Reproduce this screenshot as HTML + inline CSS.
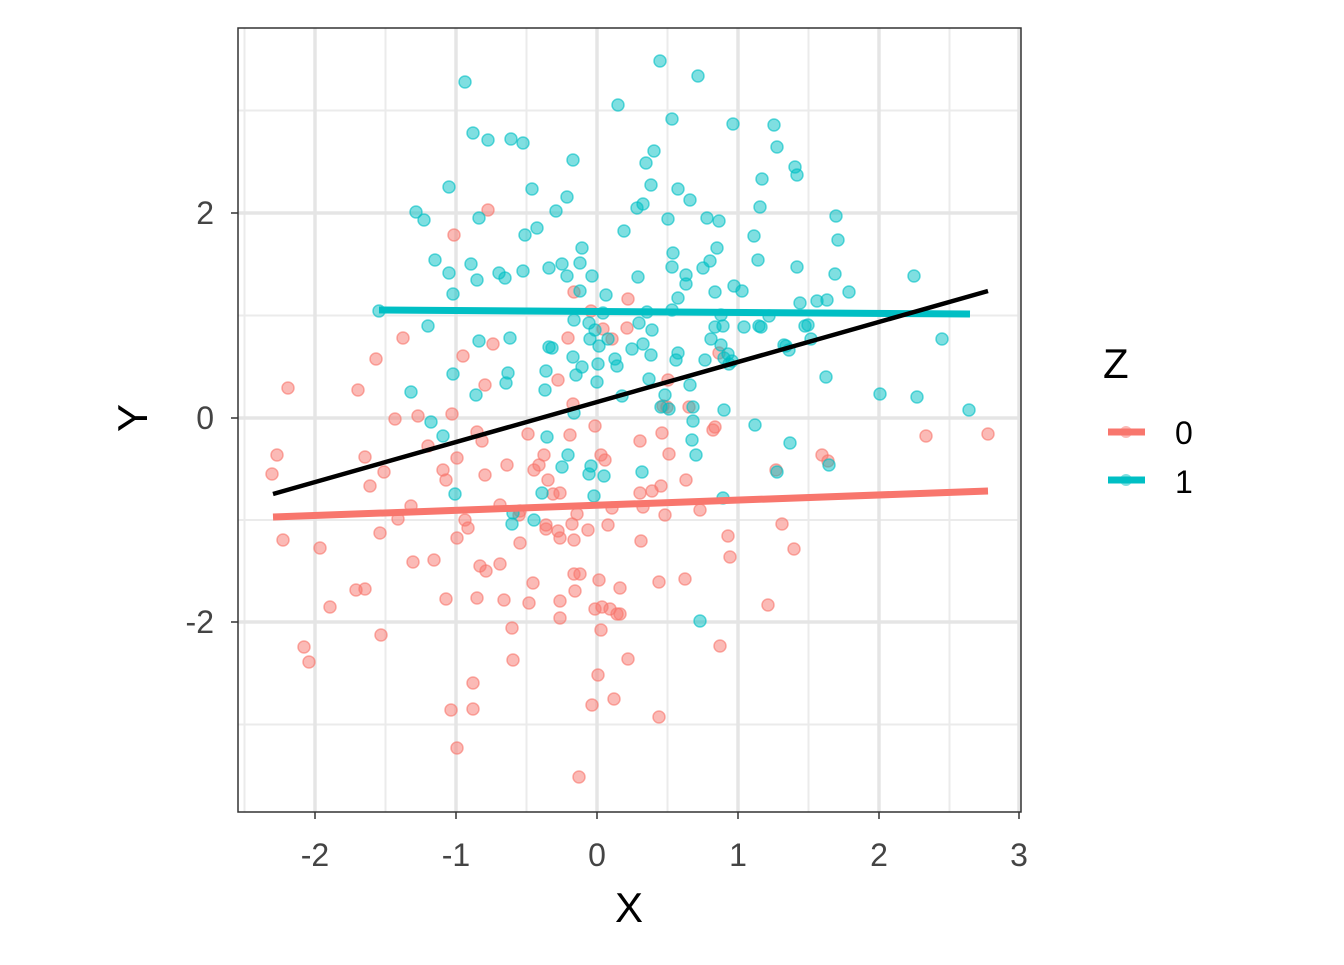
<!DOCTYPE html>
<html><head><meta charset="utf-8"><style>
body{margin:0;background:#fff}
svg text{font-family:"Liberation Sans","DejaVu Sans",sans-serif}
</style></head><body>
<svg id="s" width="1344" height="960" xmlns="http://www.w3.org/2000/svg">
<rect width="1344" height="960" fill="#fff"/>
<g stroke="#ebebeb" stroke-width="2">
<line x1="244.5" y1="28" x2="244.5" y2="812"/><line x1="385.5" y1="28" x2="385.5" y2="812"/><line x1="526.5" y1="28" x2="526.5" y2="812"/><line x1="667.5" y1="28" x2="667.5" y2="812"/><line x1="808.5" y1="28" x2="808.5" y2="812"/><line x1="949.5" y1="28" x2="949.5" y2="812"/>
<line x1="238" y1="110.5" x2="1021" y2="110.5"/><line x1="238" y1="315.5" x2="1021" y2="315.5"/><line x1="238" y1="520" x2="1021" y2="520"/><line x1="238" y1="724.5" x2="1021" y2="724.5"/>
</g>
<g stroke="#e5e5e5" stroke-width="3.5">
<line x1="315" y1="28" x2="315" y2="812"/><line x1="456" y1="28" x2="456" y2="812"/><line x1="597" y1="28" x2="597" y2="812"/><line x1="738" y1="28" x2="738" y2="812"/><line x1="879" y1="28" x2="879" y2="812"/><line x1="1019" y1="28" x2="1019" y2="812"/>
<line x1="238" y1="213" x2="1021" y2="213"/><line x1="238" y1="418" x2="1021" y2="418"/><line x1="238" y1="622" x2="1021" y2="622"/>
</g>
<g id="pts"></g>
<line x1="273" y1="517" x2="988" y2="491" stroke="#F8766D" stroke-width="7"/>
<line x1="379" y1="310" x2="970" y2="314" stroke="#00BFC4" stroke-width="7"/>
<line x1="273" y1="494" x2="988" y2="291" stroke="#000" stroke-width="4.5"/>
<rect x="238" y="28" width="783" height="784" fill="none" stroke="#333" stroke-width="1.5"/>
<g stroke="#333" stroke-width="1.5">
<line x1="315" y1="812" x2="315" y2="819"/><line x1="456" y1="812" x2="456" y2="819"/><line x1="597" y1="812" x2="597" y2="819"/><line x1="738" y1="812" x2="738" y2="819"/><line x1="879" y1="812" x2="879" y2="819"/><line x1="1019" y1="812" x2="1019" y2="819"/>
<line x1="231" y1="213" x2="238" y2="213"/><line x1="231" y1="418" x2="238" y2="418"/><line x1="231" y1="622" x2="238" y2="622"/>
</g>
<g font-size="32" fill="#444" text-anchor="middle">
<text x="315" y="866">-2</text><text x="456" y="866">-1</text><text x="597" y="866">0</text><text x="738" y="866">1</text><text x="879" y="866">2</text><text x="1019" y="866">3</text>
</g>
<g font-size="32" fill="#444" text-anchor="end">
<text x="214" y="224">2</text><text x="214" y="429">0</text><text x="214" y="633">-2</text>
</g>
<text x="629" y="922" font-size="42" text-anchor="middle">X</text>
<text transform="translate(147,418) rotate(-90)" font-size="42" text-anchor="middle">Y</text>
<text x="1103" y="378" font-size="42">Z</text>
<line x1="1108" y1="432" x2="1145" y2="432" stroke="#F8766D" stroke-width="7"/>
<circle cx="1126" cy="432" r="6" fill="#F8766D" fill-opacity="0.5"/>
<line x1="1108" y1="480" x2="1145" y2="480" stroke="#00BFC4" stroke-width="7"/>
<circle cx="1126" cy="480" r="6" fill="#00BFC4" fill-opacity="0.5"/>
<text x="1175" y="444" font-size="32">0</text><text x="1175" y="493" font-size="32">1</text>
</svg>
<script>
var teal=[465,82,660,61,698,76,618,105,473,133,488,140,511,139,523,143,672,119,733,124,774,125,777,147,795,167,797,175,654,151,646,163,573,160,651,185,678,189,690,200,449,187,532,189,567,197,556,211,416,212,424,220,479,218,637,208,643,204,668,219,707,218,719,221,762,179,760,207,836,216,838,240,624,231,537,228,525,235,582,248,754,236,717,248,435,260,449,273,471,264,499,273,505,278,523,271,549,268,562,264,567,276,580,263,592,276,638,277,673,253,672,267,686,275,686,284,703,268,710,261,758,260,797,267,835,274,849,292,914,276,734,286,742,291,580,291,606,295,678,298,715,292,453,294,477,280,800,303,827,300,817,301,647,312,672,310,652,330,639,323,603,313,589,323,590,339,574,320,595,330,599,346,608,339,715,327,711,339,723,326,721,315,744,327,759,326,769,316,761,327,805,326,811,339,428,326,479,341,510,338,549,347,552,348,573,357,582,367,598,364,615,359,632,349,643,344,651,355,678,353,721,345,728,354,732,361,784,345,789,350,786,346,808,325,676,360,705,360,724,358,729,364,453,374,508,373,506,383,546,371,576,375,597,382,617,366,622,396,649,379,665,395,690,385,826,377,880,394,917,397,942,339,411,392,476,395,545,390,661,407,669,409,693,407,724,410,755,425,790,443,829,465,693,421,692,440,696,455,969,410,443,436,547,437,431,422,574,413,568,455,562,467,589,474,604,476,642,472,777,472,455,494,542,493,594,496,723,498,513,513,534,520,512,524,379,311,700,621,591,466];
var red=[488,210,454,235,628,299,376,359,403,338,463,356,493,344,574,292,591,311,603,329,612,339,627,328,568,338,558,380,288,388,358,390,395,419,418,416,452,414,477,432,482,441,428,446,528,434,485,385,573,404,570,435,595,426,601,455,605,460,640,441,663,406,667,407,662,433,669,454,668,380,689,407,715,427,719,353,822,455,828,461,926,436,988,434,277,455,272,474,365,457,370,486,384,472,443,470,446,480,457,458,411,506,398,519,465,520,468,528,457,538,485,475,507,465,519,515,520,543,500,505,534,470,539,465,544,455,548,480,553,494,560,493,546,525,558,531,560,538,572,524,574,540,577,514,588,530,608,525,612,508,640,493,641,541,643,507,652,491,661,486,665,515,686,480,700,510,728,536,730,557,776,470,713,430,782,524,794,549,283,540,320,548,380,533,413,562,434,560,365,589,356,590,330,607,446,599,477,598,480,566,486,571,500,564,504,600,529,603,533,583,560,601,574,574,580,574,575,591,599,580,620,588,659,582,685,579,595,609,602,607,610,609,620,614,601,630,628,659,560,618,512,628,513,660,598,675,614,699,592,705,659,717,473,683,473,709,451,710,457,748,579,777,304,647,309,662,381,635,720,646,768,605,520,511,617,614,546,529];
var g=document.getElementById('pts'),ns='http://www.w3.org/2000/svg';
function add(a,c){for(var i=0;i<a.length;i+=2){var e=document.createElementNS(ns,'circle');e.setAttribute('cx',a[i]);e.setAttribute('cy',a[i+1]);e.setAttribute('r',6);e.setAttribute('fill',c);e.setAttribute('fill-opacity',0.5);e.setAttribute('stroke',c);e.setAttribute('stroke-opacity',0.6);e.setAttribute('stroke-width',1.5);g.appendChild(e);}}
add(red,'#F8766D');add(teal,'#00BFC4');
</script>
</body></html>
